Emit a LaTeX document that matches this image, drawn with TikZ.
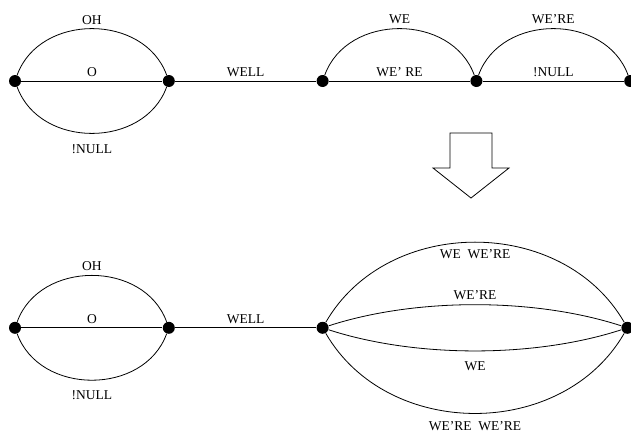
\documentclass[tikz,border=0pt]{standalone}
\usepackage{fontspec}
\setmainfont{Liberation Serif}
\usetikzlibrary{positioning}

\begin{document}
\begin{tikzpicture}[x=1pt, y=-1pt, node distance=141pt, line width=0.8pt,
  dot/.style={circle, fill, inner sep=0pt, minimum size=12pt},
  lab/.style={font=\fontsize{13.5pt}{16pt}\selectfont, inner sep=2pt}]
  \useasboundingbox (0,0) rectangle (631,434);

  % Define nodes
  \node[dot] at (15,81)   (a1) {};
  \node[dot, right=of a1] (a2) {};
  \node[dot, right=of a2] (a3) {};
  \node[dot, right=of a3] (a4) {};
  \node[dot, right=of a4] (a5) {};

  \node[dot, below=234pt of a1] (b1) {};
  \node[dot, right=of b1]       (b2) {};
  \node[dot, right=of b2]       (b3) {};
  \node[dot, right=292pt of b3] (b4) {};

  % Connect the nodes
  \draw (a1) to[bend left=70, looseness=1.13] node[lab, above=2pt] {OH} (a2);
  \draw (a1) -- node[lab, above=1.5pt] {O} (a2);
  \draw (a1) to[bend right=70, looseness=1.13] node[lab, below=9pt] {!NULL} (a2);
  \draw (a2) -- node[lab, above=1.5pt] {WELL} (a3);
  \draw (a3) to[bend left=70, looseness=1.13] node[lab, above=2pt] {WE} (a4);
  \draw (a3) -- node[lab, above=1.5pt] {WE' RE} (a4);
  \draw (a4) to[bend left=70, looseness=1.13] node[lab, above=2pt] {WE'RE} (a5);
  \draw (a4) -- node[lab, above=1.5pt] {!NULL} (a5);

  \draw (b1) to[bend left=70, looseness=1.13] node[lab, above=2pt] {OH} (b2);
  \draw (b1) -- node[lab, above=1.5pt] {O} (b2);
  \draw (b1) to[bend right=70, looseness=1.13] node[lab, below=8pt] {!NULL} (b2);
  \draw (b2) -- node[lab, above=1.5pt] {WELL} (b3);
  \draw (b3) to[bend left=60, looseness=1.06] node[lab, below=5pt] {WE~~WE'RE} (b4);
  \draw (b3) to[bend left=18, looseness=0.8] node[lab, above=3pt] {WE'RE} (b4);
  \draw (b3) to[bend right=18, looseness=0.8] node[lab, below=8pt] {WE} (b4);
  \draw (b3) to[bend right=60, looseness=1.06] node[lab, below=6pt] {WE'RE~~WE'RE} (b4);

  % Block arrow
  \draw (450,133) -- (492,133) -- (492,168) -- (509,168) -- (471,198)
    -- (433,168) -- (450,168) -- cycle;

\end{tikzpicture}
\end{document}
